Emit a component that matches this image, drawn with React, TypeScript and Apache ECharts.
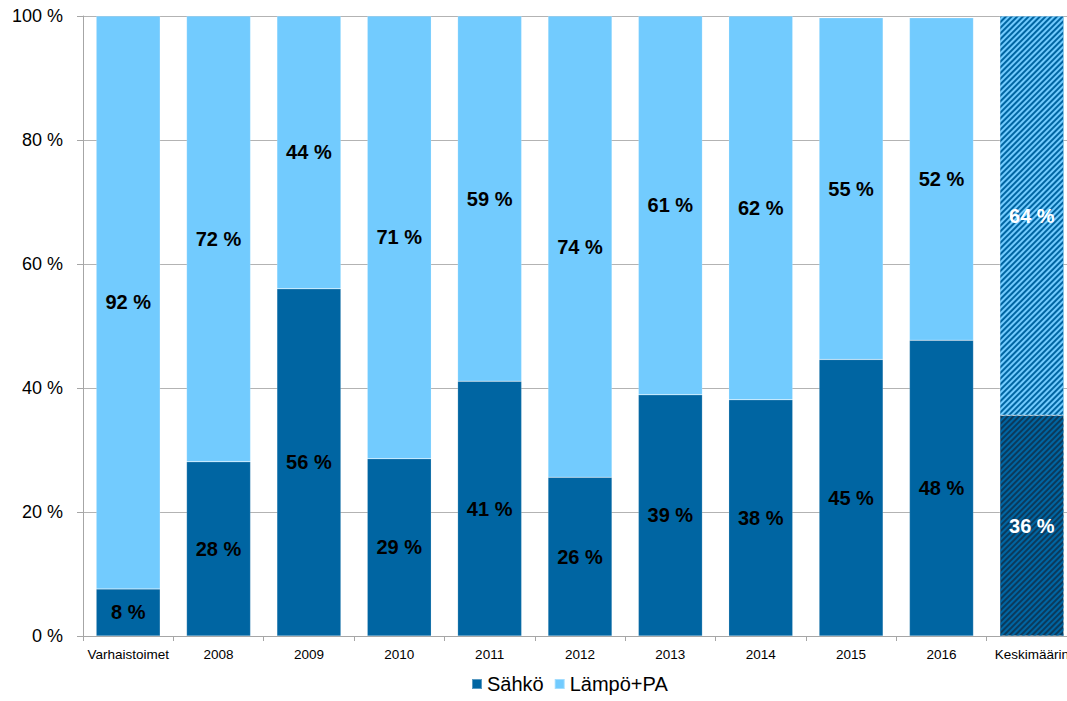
import React, { useEffect, useRef } from "react";
import * as echarts from "echarts";

const categories = ["Varhaistoimet", "2008", "2009", "2010", "2011", "2012", "2013", "2014", "2015", "2016", "Keskimäärin"];
const sahko = [7.6, 28.1, 56.0, 28.6, 41.1, 25.6, 38.9, 38.1, 44.6, 47.7, 35.6];
const lampo = [92.4, 71.9, 44.0, 71.4, 58.9, 74.4, 61.1, 61.9, 55.1, 52.0, 64.4];
const yTicks = [0, 20, 40, 60, 80, 100];

const C_SAHKO = "#0065A2";
const C_LAMPO = "#72CBFE";
const C_DARK = "#0B3A5C";

export default function App() {
  const ref = useRef<HTMLDivElement>(null);
  useEffect(() => {
    if (!ref.current) return;
    const chart = echarts.init(ref.current, null, { renderer: "svg" });
    const last = categories.length - 1;
    const labelBase = {
      show: true,
      position: "inside",
      fontFamily: "Arial, Liberation Sans, sans-serif",
      fontWeight: "bold",
      fontSize: 20,
      color: "#000",
      formatter: (p: any) => Math.round(p.value) + " %",
    };
    const mk = (vals: number[], base: string, stripeBg: string, stripe: string) =>
      vals.map((v, i) =>
        i === last
          ? {
              value: v,
              itemStyle: {
                color: stripeBg,
                decal: {
                  symbol: "rect",
                  symbolSize: 1,
                  color: stripe,
                  backgroundColor: stripeBg,
                  dashArrayX: [1, 0],
                  dashArrayY: [2, 2],
                  rotation: -Math.PI / 4,
                },
              },
              label: { color: "#fff" },
            }
          : { value: v, itemStyle: { color: base } }
      );
    chart.setOption({
      animation: false,
      textStyle: { fontFamily: "Arial, Liberation Sans, sans-serif" },
      grid: { left: 83, top: 16, height: 620, width: 994 },
      legend: {
        bottom: 2,
        left: 466,
        itemWidth: 10,
        itemHeight: 10,
        itemGap: 10,
        icon: "rect",
        textStyle: { fontSize: 20, color: "#000", fontFamily: "Arial, Liberation Sans, sans-serif" },
        data: ["Sähkö", "Lämpö+PA"],
      },
      xAxis: {
        type: "category",
        data: categories,
        axisLine: { lineStyle: { color: "#a6a6a6" } },
        axisTick: { show: true, length: 5, lineStyle: { color: "#a6a6a6" } },
        axisLabel: { fontSize: 13.5, color: "#000", margin: 11, interval: 0 },
      },
      yAxis: {
        type: "value",
        min: 0,
        max: 100,
        interval: 20,
        axisLine: { show: true, lineStyle: { color: "#a6a6a6" } },
        axisTick: { show: true, length: 6, lineStyle: { color: "#a6a6a6" } },
        axisLabel: {
          fontSize: 18,
          color: "#000",
          margin: 20,
          formatter: (v: number) => (yTicks.includes(v) ? v + " %" : ""),
        },
        splitLine: { lineStyle: { color: "#b3b3b3" } },
      },
      series: [
        {
          name: "Sähkö",
          type: "bar",
          stack: "a",
          barWidth: 64,
          itemStyle: { color: C_SAHKO, borderColor: "rgba(255,255,255,0.35)", borderWidth: 0.5 },
          label: labelBase,
          data: mk(sahko, C_SAHKO, C_DARK, C_SAHKO),
        },
        {
          name: "Lämpö+PA",
          type: "bar",
          stack: "a",
          barWidth: 64,
          itemStyle: { color: C_LAMPO, borderColor: "rgba(255,255,255,0.35)", borderWidth: 0.5 },
          label: labelBase,
          data: mk(lampo, C_LAMPO, C_SAHKO, C_LAMPO),
        },
      ],
    });
    return () => chart.dispose();
  }, []);
  return (
    <div style={{ width: 1067, height: 701, position: "absolute", left: 0, top: 0, overflow: "hidden" }}>
      <div ref={ref} style={{ width: 1100, height: 701 }} />
    </div>
  );
}
